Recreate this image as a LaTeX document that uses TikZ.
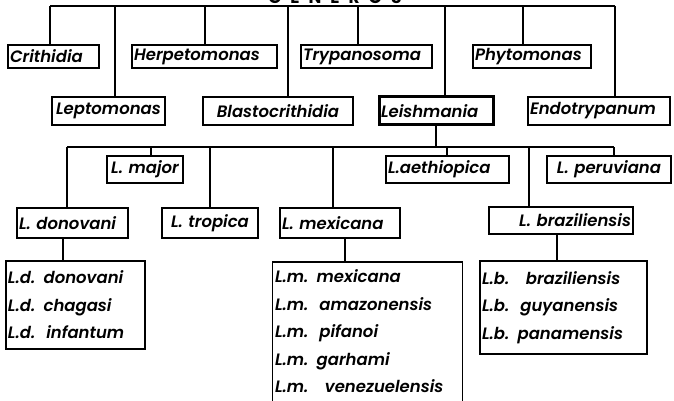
\documentclass[tikz,border=0pt]{standalone}
\usepackage{fontspec}
\newfontfamily\genfont{Poppins}[UprightFont=* SemiBold, ItalicFont=* SemiBold Italic, BoldFont=* Bold]
\tikzset{
  gbox/.style={draw, line width=1.3pt, inner xsep=2pt, inner ysep=0pt,
    font=\genfont\itshape\fontsize{16.5}{27.5}\selectfont},
  conn/.style={-, line width=1.4pt},
}
\begin{document}
\begin{tikzpicture}[x=1pt, y=-1pt]
        \useasboundingbox (0,0) rectangle (674,401);
        % titolo
        \node [font=\genfont\bfseries\fontsize{17}{17}\selectfont, anchor=base] (title) at (335,4) {G\hspace{9pt}E\hspace{9pt}N\hspace{9pt}E\hspace{9pt}R\hspace{9pt}O\hspace{9pt}S};
        % generi, prima fila
        \node [gbox, text width=87pt, minimum height=23pt, align=left] (crith) at (53.5,56.5) {Crithidia};
        \node [gbox, text width=141pt, minimum height=23pt, align=left] (herp) at (204.5,56.5) {Herpetomonas};
        \node [gbox, text width=127pt, minimum height=23pt, align=left] (tryp) at (366.5,56.5) {Trypanosoma};
        \node [gbox, text width=114pt, minimum height=23pt, align=left] (phyto) at (532,56.5) {Phytomonas};
        % generi, seconda fila
        \node [gbox, text width=109pt, minimum height=28pt, align=center] (lept) at (108.5,111) {Leptomonas};
        \node [gbox, text width=146pt, minimum height=28pt, align=center] (blast) at (278,111) {Blastocrithidia};
        \node [gbox, line width=3pt, text width=110pt, minimum height=28pt, align=left] (leish) at (436,111) {Leishmania};
        \node [gbox, text width=138pt, minimum height=28pt, align=left] (endo) at (599,111) {Endotrypanum};
        % barra e ingressi
        \coordinate (g1) at (50,6);\coordinate (g2) at (115,6);
        \coordinate (g3) at (205,6);\coordinate (g4) at (288,6);
        \coordinate (g5) at (358,6);\coordinate (g6) at (445,6);
        \coordinate (g7) at (523,6);\coordinate (g8) at (615,6);
        \draw [conn] (g1) -- (g8);
        \draw [conn] (g1) -- (g1 |- crith.north);\draw [conn] (g2) -- (g2 |- lept.north);
        \draw [conn] (g3) -- (g3 |- herp.north);\draw [conn] (g4) -- (g4 |- blast.north);
        \draw [conn] (g5) -- (g5 |- tryp.north);\draw [conn] (g6) -- (g6 |- leish.north);
        \draw [conn] (g7) -- (g7 |- phyto.north);\draw [conn] (g8) -- (g8 |- endo.north);
        % specie
        \node [gbox, text width=72pt, minimum height=27pt, align=center] (lmaj) at (145,169.5) {L. major};
        \node [gbox, text width=119pt, minimum height=27pt, align=left] (laeth) at (447.5,169.5) {L.aethiopica};
        \node [gbox, text width=120pt, minimum height=27pt, align=center] (lperu) at (609,169.5) {L. peruviana};
        \node [gbox, text width=107pt, minimum height=30pt, align=left] (ldon) at (72.5,223) {L. donovani};
        \node [gbox, text width=92pt, minimum height=30pt, align=center] (ltrop) at (210,223) {L. tropica};
        \node [gbox, text width=116pt, minimum height=30pt, align=left] (lmex) at (340,223) {L. mexicana};
        \node [gbox, text width=140pt, minimum height=27pt, align=right] (lbraz) at (561,220.5) {L. braziliensis\hspace{6pt}};
        % barra specie
        \coordinate (s1) at (67,147);\coordinate (s2) at (151,147);
        \coordinate (s3) at (210,147);\coordinate (s4) at (333,147);
        \coordinate (s5) at (447,147);\coordinate (s6) at (529,147);
        \coordinate (s7) at (614,147);
        \draw [conn] (leish.south) -- (leish.south |- s1);
        \draw [conn] (s1) -- (s7);
        \draw [conn] (s1) -- (s1 |- ldon.north);\draw [conn] (s2) -- (s2 |- lmaj.north);
        \draw [conn] (s3) -- (s3 |- ltrop.north);\draw [conn] (s4) -- (s4 |- lmex.north);
        \draw [conn] (s5) -- (s5 |- laeth.north);\draw [conn] (s6) -- (s6 |- lbraz.north);
        \draw [conn] (s7) -- (s7 |- lperu.north);
        % sottospecie
        \node [gbox, text width=135pt, minimum height=88pt, align=left] (ldlist) at (75.5,305)
          {L.d. donovani\\L.d. chagasi\\L.d.\ \ infantum};
        \node [gbox, text width=163pt, minimum height=93pt, align=left] (lblist) at (563.5,307.5)
          {L.b.\ \ \ braziliensis\\L.b.\ \ guyanensis\\L.b. panamensis};
        \node [gbox, draw=none, text width=185pt, inner ysep=7pt, anchor=north, align=left] (lmlist) at (367.5,262)
          {L.m. mexicana\\L.m.\ \ amazonensis\\L.m.\ \ pifanoi\\L.m. garhami\\L.m.\ \ \ venezuelensis};
        \draw [line width=1.3pt] (lmlist.north west) rectangle ([yshift=-30pt]lmlist.south east);
        \draw [conn] ([xshift=-9.5pt]ldon.south) -- ([xshift=-9.5pt]ldon.south |- ldlist.north);
        \draw [conn] ([xshift=5pt]lmex.south) -- ([xshift=5pt]lmex.south |- lmlist.north);
        \draw [conn] ([xshift=-4pt]lbraz.south) -- ([xshift=-4pt]lbraz.south |- lblist.north);
    \end{tikzpicture}
\end{document}
